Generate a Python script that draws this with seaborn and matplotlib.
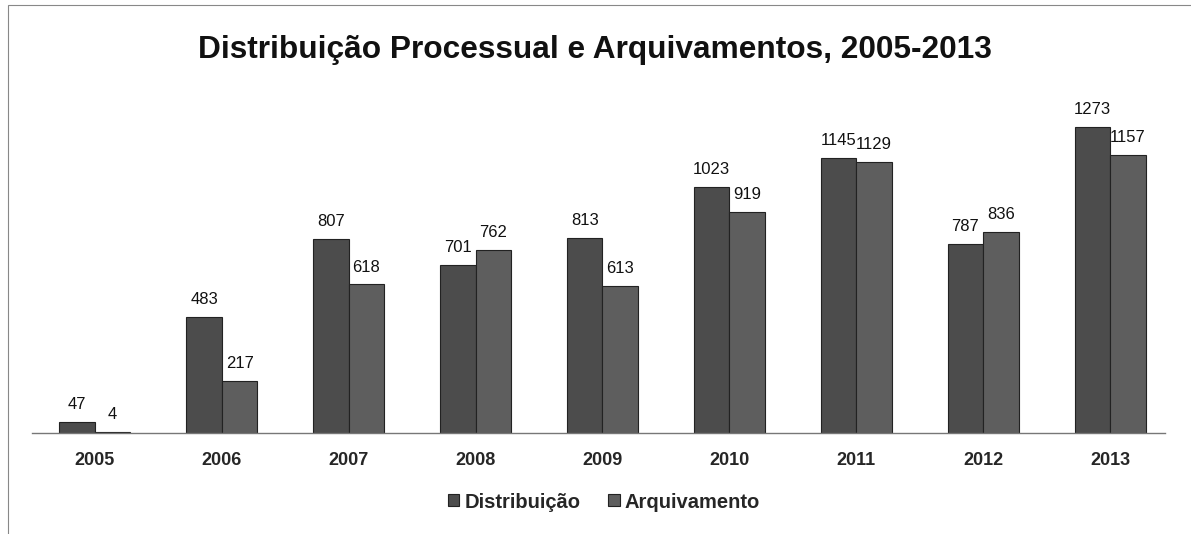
import pandas as pd
import matplotlib
matplotlib.use("Agg")
import matplotlib.pyplot as plt
import seaborn as sns
from matplotlib.patches import Rectangle

# Data
anos = ['2005', '2006', '2007', '2008', '2009', '2010', '2011', '2012', '2013']
distribuicao = [47, 483, 807, 701, 813, 1023, 1145, 787, 1273]
arquivamento = [4, 217, 618, 762, 613, 919, 1129, 836, 1157]

df = pd.DataFrame({
    'Ano': anos * 2,
    'Valor': distribuicao + arquivamento,
    'Série': ['Distribuição'] * len(anos) + ['Arquivamento'] * len(anos),
})

sns.set_theme(style="white")
plt.rcParams['font.family'] = ['Liberation Sans', 'DejaVu Sans']

fig = plt.figure(figsize=(11.91, 5.34), dpi=100)
ax = fig.add_axes([32 / 1191, 101 / 534, (1165 - 32) / 1191, 0.63])

cores = {'Distribuição': '#4c4c4c', 'Arquivamento': '#5e5e5e'}
sns.barplot(data=df, x='Ano', y='Valor', hue='Série', palette=cores,
            width=0.56, gap=0, edgecolor='#222222', linewidth=0.8,
            saturation=1, ax=ax, legend=True)

for cont in ax.containers:
    ax.bar_label(cont, fmt='%d', padding=7, fontsize=12, color='#111111')

ax.set_ylim(0, 1400)
ax.set_xlim(-0.496, 8.433)
ax.set_xlabel('')
ax.set_ylabel('')
ax.set_yticks([])
for s in ['top', 'right', 'left']:
    ax.spines[s].set_visible(False)
ax.spines['bottom'].set_color('#777777')
ax.spines['bottom'].set_linewidth(1.0)
ax.tick_params(axis='x', length=0, pad=14)
for t in ax.get_xticklabels():
    t.set_fontweight('bold')
    t.set_fontsize(13)

leg = ax.legend(loc='center', bbox_to_anchor=(604 / 1191, 1 - 502 / 534),
                bbox_transform=fig.transFigure, ncol=2, frameon=False,
                handlelength=0.55, handleheight=0.55, handletextpad=0.25,
                columnspacing=1.4, prop={'weight': 'bold', 'size': 14.5})

fig.text(595 / 1191, 1 - 50 / 534, 'Distribuição Processual e Arquivamentos, 2005-2013',
         ha='center', va='center', fontsize=22.8, fontweight='bold', color='#111111')

# scanned page border
fig.patches.append(Rectangle((8 / 1191, -0.01), 1.1, 1 - 5 / 534 + 0.01,
                             transform=fig.transFigure, fill=False,
                             edgecolor='#888888', linewidth=0.8))

fig.savefig('out.png', dpi=100)
